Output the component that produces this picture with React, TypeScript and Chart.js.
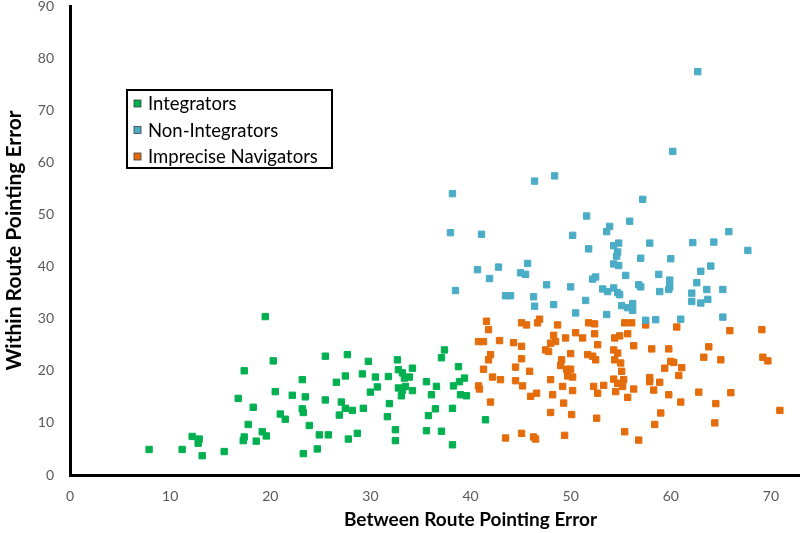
import React, { useEffect, useRef } from "react";
import { Chart, registerables } from "chart.js";

Chart.register(...registerables);

const seriesNames = ["Integrators", "Non-Integrators", "Imprecise Navigators"];
const seriesColors = ["#00B050", "#4BACC6", "#E46C0A"];
const xTitle = "Between Route Pointing Error";
const yTitle = "Within Route Pointing Error";
const xRange = [0, 80];
const yRange = [0, 90];
const tickStep = 10;

const integrators: number[][] = [
  [7.9, 4.9], [11.2, 4.9], [12.2, 7.4], [12.9, 6.9], [12.8, 6.1], [13.2, 3.7], [15.4, 4.5],
  [17.4, 20.0], [16.8, 14.7], [18.3, 13.0], [17.8, 9.7], [17.4, 7.3], [17.3, 6.6], [18.6, 6.5],
  [19.2, 8.3], [19.5, 30.4], [20.3, 21.9], [19.6, 7.5], [20.5, 16.0], [21.0, 11.7], [21.5, 10.7],
  [22.2, 15.3], [23.2, 18.3], [23.5, 15.0], [23.2, 12.7], [23.3, 12.0], [23.9, 9.5], [23.3, 4.1],
  [24.7, 5.0], [24.9, 7.7], [25.8, 7.7], [25.5, 22.8], [25.5, 14.4], [26.6, 17.8], [27.5, 19.0],
  [27.7, 23.1], [27.1, 14.0], [26.9, 11.5], [27.5, 12.8], [28.2, 12.4], [27.8, 6.9], [28.7, 8.0],
  [29.2, 19.4], [29.8, 21.8], [30.0, 15.9], [30.7, 16.9], [30.5, 18.8], [29.3, 12.8], [31.8, 18.9],
  [32.7, 22.1], [32.8, 20.2], [31.9, 13.7], [31.7, 11.2], [32.5, 8.7], [32.5, 6.6], [33.2, 19.6],
  [33.4, 18.6], [33.9, 18.8], [34.2, 20.5], [32.8, 16.7], [33.2, 16.3], [33.5, 17.0], [33.1, 15.2],
  [34.2, 16.2], [35.6, 17.9], [36.6, 17.0], [36.1, 15.4], [37.4, 24.0], [37.1, 22.5], [36.5, 12.7],
  [35.8, 11.4], [35.6, 8.5], [37.1, 8.4], [38.8, 20.8], [39.4, 18.6], [38.9, 17.9], [38.3, 17.1],
  [39.0, 15.4], [39.6, 15.2], [38.2, 12.8], [41.5, 10.6], [38.2, 5.8],
];

const nonIntegrators: number[][] = [
  [38.2, 54.0], [46.4, 56.4], [48.4, 57.4], [38.0, 46.5], [41.1, 46.2], [51.6, 49.7], [50.2, 46.0],
  [53.9, 47.7], [53.6, 46.7], [51.8, 43.4], [54.3, 44.0], [54.8, 44.5], [54.6, 42.0], [54.3, 40.5],
  [54.8, 40.2], [40.7, 39.4], [42.8, 39.9], [41.9, 37.7], [45.7, 40.6], [45.0, 38.8], [45.5, 38.5],
  [47.6, 36.5], [50.0, 36.1], [52.2, 37.6], [52.5, 38.0], [38.5, 35.4], [43.5, 34.4], [44.0, 34.4],
  [46.3, 34.2], [46.4, 32.4], [48.3, 32.7], [51.5, 33.5], [50.5, 31.1], [53.2, 35.7], [53.7, 35.2],
  [54.3, 35.9], [54.7, 35.0], [54.9, 34.6], [53.6, 30.8], [55.1, 32.5], [55.7, 32.1], [56.2, 32.9],
  [56.2, 31.6], [57.5, 29.7], [58.5, 29.8], [61.0, 29.9], [65.2, 30.3], [62.1, 34.9], [62.1, 33.3],
  [63.0, 33.0], [63.7, 33.7], [63.6, 35.6], [58.9, 35.2], [59.8, 35.6], [65.2, 35.6], [62.7, 77.4],
  [60.2, 62.1], [57.2, 52.9], [55.9, 48.7], [65.8, 46.7], [67.7, 43.1], [57.9, 44.5], [62.2, 44.6],
  [64.3, 44.7], [54.7, 42.8], [57.0, 41.6], [60.0, 41.5], [55.5, 38.3], [58.8, 38.5], [59.9, 37.4],
  [59.9, 36.1], [63.0, 39.1], [64.0, 40.1], [56.8, 36.5], [57.0, 36.1], [62.6, 36.9],
];

const impreciseNavigators: number[][] = [
  [41.6, 29.5], [41.8, 27.9], [40.8, 25.6], [41.3, 25.6], [42.9, 25.8], [42.0, 23.1], [41.8, 22.1],
  [41.3, 20.3], [42.2, 18.8], [43.0, 18.3], [40.8, 17.1], [40.9, 16.5], [42.0, 14.0], [43.5, 7.1],
  [45.1, 29.2], [45.6, 28.8], [46.7, 29.2], [46.9, 29.9], [44.3, 25.4], [45.1, 24.7], [45.1, 22.3],
  [44.5, 20.7], [45.9, 19.9], [44.5, 18.1], [45.2, 17.1], [46.0, 15.1], [46.6, 15.7], [45.1, 8.0],
  [46.3, 7.3], [46.5, 6.9], [48.7, 28.8], [48.3, 26.8], [48.5, 25.6], [48.0, 25.3], [47.5, 24.0],
  [49.5, 26.3], [47.8, 23.7], [50.0, 23.3], [49.1, 22.1], [49.0, 21.0], [49.6, 20.3], [50.0, 20.3],
  [49.7, 19.0], [50.2, 18.8], [48.0, 18.3], [49.2, 17.0], [50.2, 16.2], [48.2, 15.4], [49.3, 13.8],
  [48.0, 12.0], [50.1, 11.6], [49.4, 7.6], [50.5, 27.3], [51.2, 26.3], [51.8, 29.2], [52.4, 29.0],
  [52.4, 27.1], [52.7, 25.0], [51.7, 23.1], [52.2, 22.8], [52.5, 22.1], [52.3, 17.0], [52.7, 15.7],
  [53.3, 17.2], [52.6, 10.9], [55.4, 29.2], [56.1, 29.2], [54.9, 26.7], [55.7, 27.1], [54.4, 26.3],
  [54.3, 24.0], [54.7, 23.4], [56.3, 24.8], [54.4, 22.1], [55.0, 21.5], [55.1, 19.9], [54.3, 18.4],
  [54.7, 17.6], [55.3, 18.3], [55.2, 17.0], [54.5, 16.0], [56.3, 16.5], [55.7, 14.9], [55.4, 8.3],
  [56.8, 6.7], [57.5, 28.8], [60.6, 28.4], [65.9, 27.7], [69.1, 27.9], [58.1, 24.2], [59.8, 24.2],
  [63.8, 24.6], [63.3, 22.6], [65.0, 22.1], [69.2, 22.6], [69.7, 21.9], [60.0, 21.8], [60.3, 21.6],
  [59.4, 20.5], [61.1, 20.6], [60.8, 19.1], [57.9, 18.7], [57.9, 17.9], [58.9, 17.8], [58.3, 16.3],
  [59.8, 15.4], [61.0, 14.0], [62.8, 15.9], [66.0, 15.8], [64.5, 13.7], [59.0, 11.9], [58.4, 9.7],
  [64.4, 10.0], [70.9, 12.4],
];

const seriesData = [integrators, nonIntegrators, impreciseNavigators];

const FONT = "Lato, 'Open Sans', sans-serif";

const boxLegend = {
  id: "boxLegend",
  afterDatasetsDraw(chart: any) {
    const ctx = chart.ctx;
    const area = chart.chartArea;
    const left = area.left + 57;
    const top = area.top + 84;
    const w = 205;
    const h = 78;
    ctx.save();
    ctx.fillStyle = "#ffffff";
    ctx.fillRect(left, top, w, h);
    ctx.lineWidth = 2;
    ctx.strokeStyle = "#000000";
    ctx.strokeRect(left, top, w, h);
    ctx.font = `18.5px ${FONT}`;
    ctx.textBaseline = "middle";
    ctx.textAlign = "left";
    chart.data.datasets.forEach((ds: any, i: number) => {
      const cy = top + 13.5 + i * 26.5;
      ctx.fillStyle = ds.backgroundColor;
      ctx.fillRect(left + 7, cy - 3.5, 7, 7);
      ctx.lineWidth = 0.8;
      ctx.strokeStyle = "#404040";
      ctx.strokeRect(left + 7, cy - 3.5, 7, 7);
      ctx.fillStyle = "#000000";
      ctx.fillText(ds.label, left + 21, cy + 1);
    });
    ctx.restore();
  },
};

export default function App() {
  const ref = useRef<HTMLCanvasElement | null>(null);

  useEffect(() => {
    if (!ref.current) return;
    const chart = new Chart(ref.current, {
      type: "scatter",
      data: {
        datasets: seriesNames.map((name, i) => ({
          label: name,
          data: seriesData[i].map(([x, y]) => ({ x, y })),
          backgroundColor: seriesColors[i],
          borderColor: seriesColors[i],
          borderWidth: 1,
          pointStyle: "rect",
          pointRadius: 4.5,
          pointHoverRadius: 4.5,
        })),
      },
      options: {
        animation: false,
        responsive: true,
        maintainAspectRatio: false,
        events: [],
        layout: { padding: { left: 0, top: 6, right: 9, bottom: 0 } },
        plugins: {
          legend: { display: false },
          tooltip: { enabled: false },
          title: { display: false },
        },
        scales: {
          x: {
            type: "linear",
            min: xRange[0],
            max: xRange[1],
            grid: { display: false },
            border: { display: true, color: "#000000", width: 3 },
            ticks: {
              stepSize: tickStep,
              color: "#595959",
              font: { family: FONT, size: 14 },
              padding: 5,
            },
            title: {
              display: true,
              text: xTitle,
              color: "#000000",
              font: { family: FONT, size: 19, weight: "bold" },
              padding: { top: 4, bottom: 2 },
            },
            afterFit: (scale: any) => {
              scale.height = 58;
              scale.paddingLeft = 0;
              scale.paddingRight = 0;
            },
          },
          y: {
            type: "linear",
            min: yRange[0],
            max: yRange[1],
            grid: { display: false },
            border: { display: true, color: "#000000", width: 3 },
            ticks: {
              stepSize: tickStep,
              color: "#595959",
              font: { family: FONT, size: 14 },
              padding: 8,
            },
            title: {
              display: true,
              text: yTitle,
              color: "#000000",
              font: { family: FONT, size: 21, weight: "bold" },
              padding: { top: 2, bottom: 4 },
            },
            afterFit: (scale: any) => {
              scale.width = 70;
              scale.paddingTop = 0;
              scale.paddingBottom = 0;
            },
          },
        },
      },
      plugins: [boxLegend],
    });
    return () => chart.destroy();
  }, []);

  return (
    <div
      style={{
        position: "absolute",
        left: 0,
        top: 0,
        width: 800,
        height: 533,
        overflow: "hidden",
        background: "#fff",
      }}
    >
      <div style={{ position: "relative", width: 880, height: 533 }}>
        <canvas ref={ref} />
      </div>
    </div>
  );
}
